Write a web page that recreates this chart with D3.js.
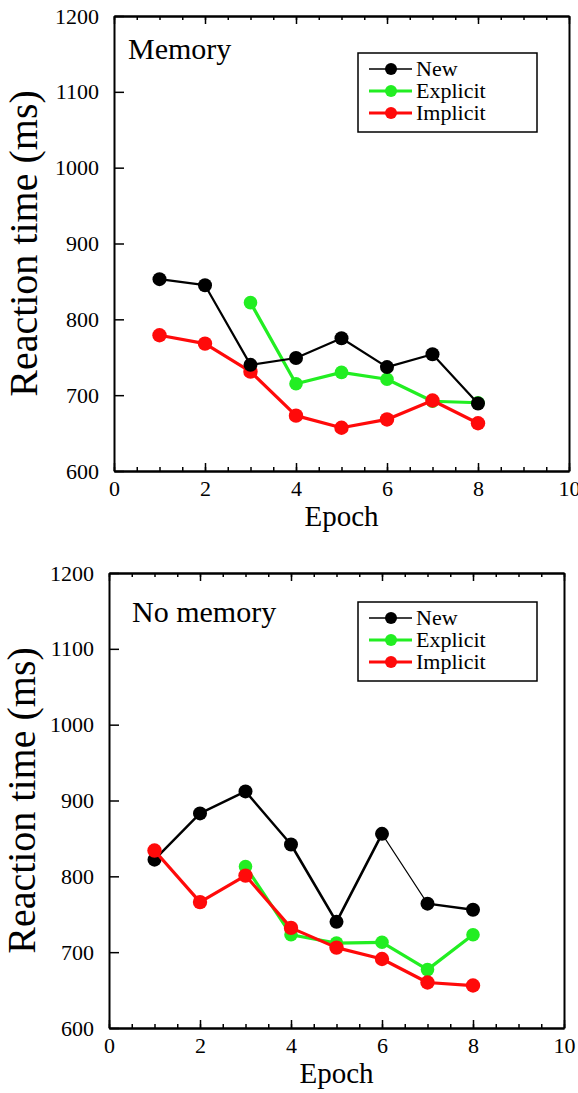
<!DOCTYPE html>
<html>
<head>
<meta charset="utf-8">
<script src="https://cdn.jsdelivr.net/npm/d3@7"></script>
<style>
  html, body { margin: 0; padding: 0; background: #fff; }
</style>
</head>
<body>
<svg id="chart" width="578" height="1093"></svg>
<script>
// Epochs along the x axis
const epochs = [1, 2, 3, 4, 5, 6, 7, 8];

// Memory condition: mean reaction times (ms)
const memoryNew      = [853, 845, 740, 749, 775, 737, 754, 689];
const memoryExplicit = [null, null, 822, 715, 730, 721, 692, 690];
const memoryImplicit = [779, 768, 731, 673, 657, 668, 693, 663];

// No-memory condition: mean reaction times (ms)
const noMemoryNew      = [822, 883, 912, 842, 740, 856, 764, 756];
const noMemoryExplicit = [null, null, 813, 723, 712, 713, 677, 723];
const noMemoryImplicit = [834, 766, 801, 732, 706, 691, 660, 656];

// Axis ticks
const xTicks = [0, 2, 4, 6, 8, 10];
const xMinorTicks = d3.range(0, 10.01, 0.5);
const yTicks = [600, 700, 800, 900, 1000, 1100, 1200];

const seriesNames = ["New", "Explicit", "Implicit"];
const colors = { New: "#000000", Explicit: "#22ee22", Implicit: "#ff0a0a" };
const widths = { New: 2.2, Explicit: 3.2, Implicit: 3.2 };
const radii = { New: 7, Explicit: 6.8, Implicit: 7.2 };
const FONT = "Liberation Serif";

const svg = d3.select("#chart");

function label(sel, size) {
  return sel.style("font-family", FONT).style("font-size", size + "px").attr("fill", "#000");
}

function panel(cfg) {
  const W = 455, H = 455;
  const g = svg.append("g").attr("transform", `translate(${cfg.left},${cfg.top})`);
  const x = d3.scaleLinear().domain([0, 10]).range([0, W]);
  const y = d3.scaleLinear().domain([600, 1200]).range([H, 0]);

  // Bottom axis: labelled majors pointing inward, plus minor ticks
  g.append("g").attr("transform", `translate(0,${H})`)
    .call(d3.axisBottom(x).tickValues(xTicks).tickSize(-8).tickSizeOuter(0).tickPadding(9).tickFormat(d3.format("d")));
  g.append("g").attr("transform", `translate(0,${H})`)
    .call(d3.axisBottom(x).tickValues(xMinorTicks).tickSize(-4).tickSizeOuter(0).tickFormat(""));
  // Top axis mirrors the bottom ticks without labels
  g.append("g")
    .call(d3.axisTop(x).tickValues(xTicks).tickSize(-8).tickSizeOuter(0).tickFormat(""));
  g.append("g")
    .call(d3.axisTop(x).tickValues(xMinorTicks).tickSize(-4).tickSizeOuter(0).tickFormat(""));
  // Left axis
  g.append("g")
    .call(d3.axisLeft(y).tickValues(yTicks).tickSize(-10).tickSizeOuter(0).tickPadding(15).tickFormat(d3.format("d")));
  // Right axis: frame line only
  g.append("g").attr("transform", `translate(${W},0)`)
    .call(d3.axisRight(y).tickValues([]).tickSizeOuter(0));

  g.selectAll(".domain").attr("stroke", "#000").attr("stroke-width", 2);
  g.selectAll(".tick line").attr("stroke", "#000").attr("stroke-width", 1.5);
  label(g.selectAll(".tick text"), 22);

  // Axis titles
  label(g.append("text"), 29)
    .attr("x", W / 2).attr("y", H + 55)
    .attr("text-anchor", "middle")
    .text("Epoch");
  label(g.append("text"), 40)
    .attr("transform", `translate(${cfg.yTitleX},${H / 2}) rotate(-90)`)
    .attr("text-anchor", "middle")
    .text("Reaction time (ms)");

  // Panel title
  label(g.append("text"), 30)
    .attr("x", cfg.titleX).attr("y", cfg.titleY)
    .text(cfg.title);

  // Series lines and markers
  cfg.order.forEach(name => {
    const pts = epochs.map((e, i) => ({ e, v: cfg.data[name][i] }))
      .filter(d => d.v != null);
    const segW = (cfg.segmentWidths && cfg.segmentWidths[name]) || null;
    g.append("g").selectAll("line")
      .data(d3.pairs(pts))
      .join("line")
      .attr("x1", d => x(d[0].e)).attr("y1", d => y(d[0].v))
      .attr("x2", d => x(d[1].e)).attr("y2", d => y(d[1].v))
      .attr("stroke", colors[name])
      .attr("stroke-width", (d, i) => segW ? segW[i] : widths[name])
      .attr("stroke-linecap", "round");
    g.append("g").selectAll("circle")
      .data(pts)
      .join("circle")
      .attr("cx", d => x(d.e)).attr("cy", d => y(d.v))
      .attr("r", radii[name])
      .attr("fill", colors[name]);
  });

  // Legend
  const lg = g.append("g").attr("transform", `translate(${cfg.legendX},${cfg.legendY})`);
  lg.append("rect")
    .attr("width", 179).attr("height", 79)
    .attr("fill", "#fff").attr("stroke", "#000").attr("stroke-width", 1.5);
  seriesNames.forEach((name, i) => {
    const ry = 16 + i * 22;
    lg.append("line")
      .attr("x1", 11).attr("x2", 54).attr("y1", ry).attr("y2", ry)
      .attr("stroke", colors[name])
      .attr("stroke-width", name === "New" ? 1.6 : 3.2);
    lg.append("circle")
      .attr("cx", 33).attr("cy", ry).attr("r", 6)
      .attr("fill", colors[name]);
    label(lg.append("text"), 22)
      .attr("x", 58).attr("y", ry + 7)
      .text(name);
  });
}

panel({
  left: 114, top: 16, title: "Memory", titleX: 14, titleY: 43,
  yTitleX: -77, legendX: 244, legendY: 37,
  order: ["Explicit", "Implicit", "New"],
  data: { New: memoryNew, Explicit: memoryExplicit, Implicit: memoryImplicit }
});

panel({
  left: 109, top: 573, title: "No memory", titleX: 23, titleY: 49,
  yTitleX: -74, legendX: 249, legendY: 29,
  order: ["New", "Explicit", "Implicit"],
  data: { New: noMemoryNew, Explicit: noMemoryExplicit, Implicit: noMemoryImplicit },
  segmentWidths: { New: [2.4, 2.4, 2.4, 2.6, 2.6, 1.1, 2.4] }
});
</script>
</body>
</html>
